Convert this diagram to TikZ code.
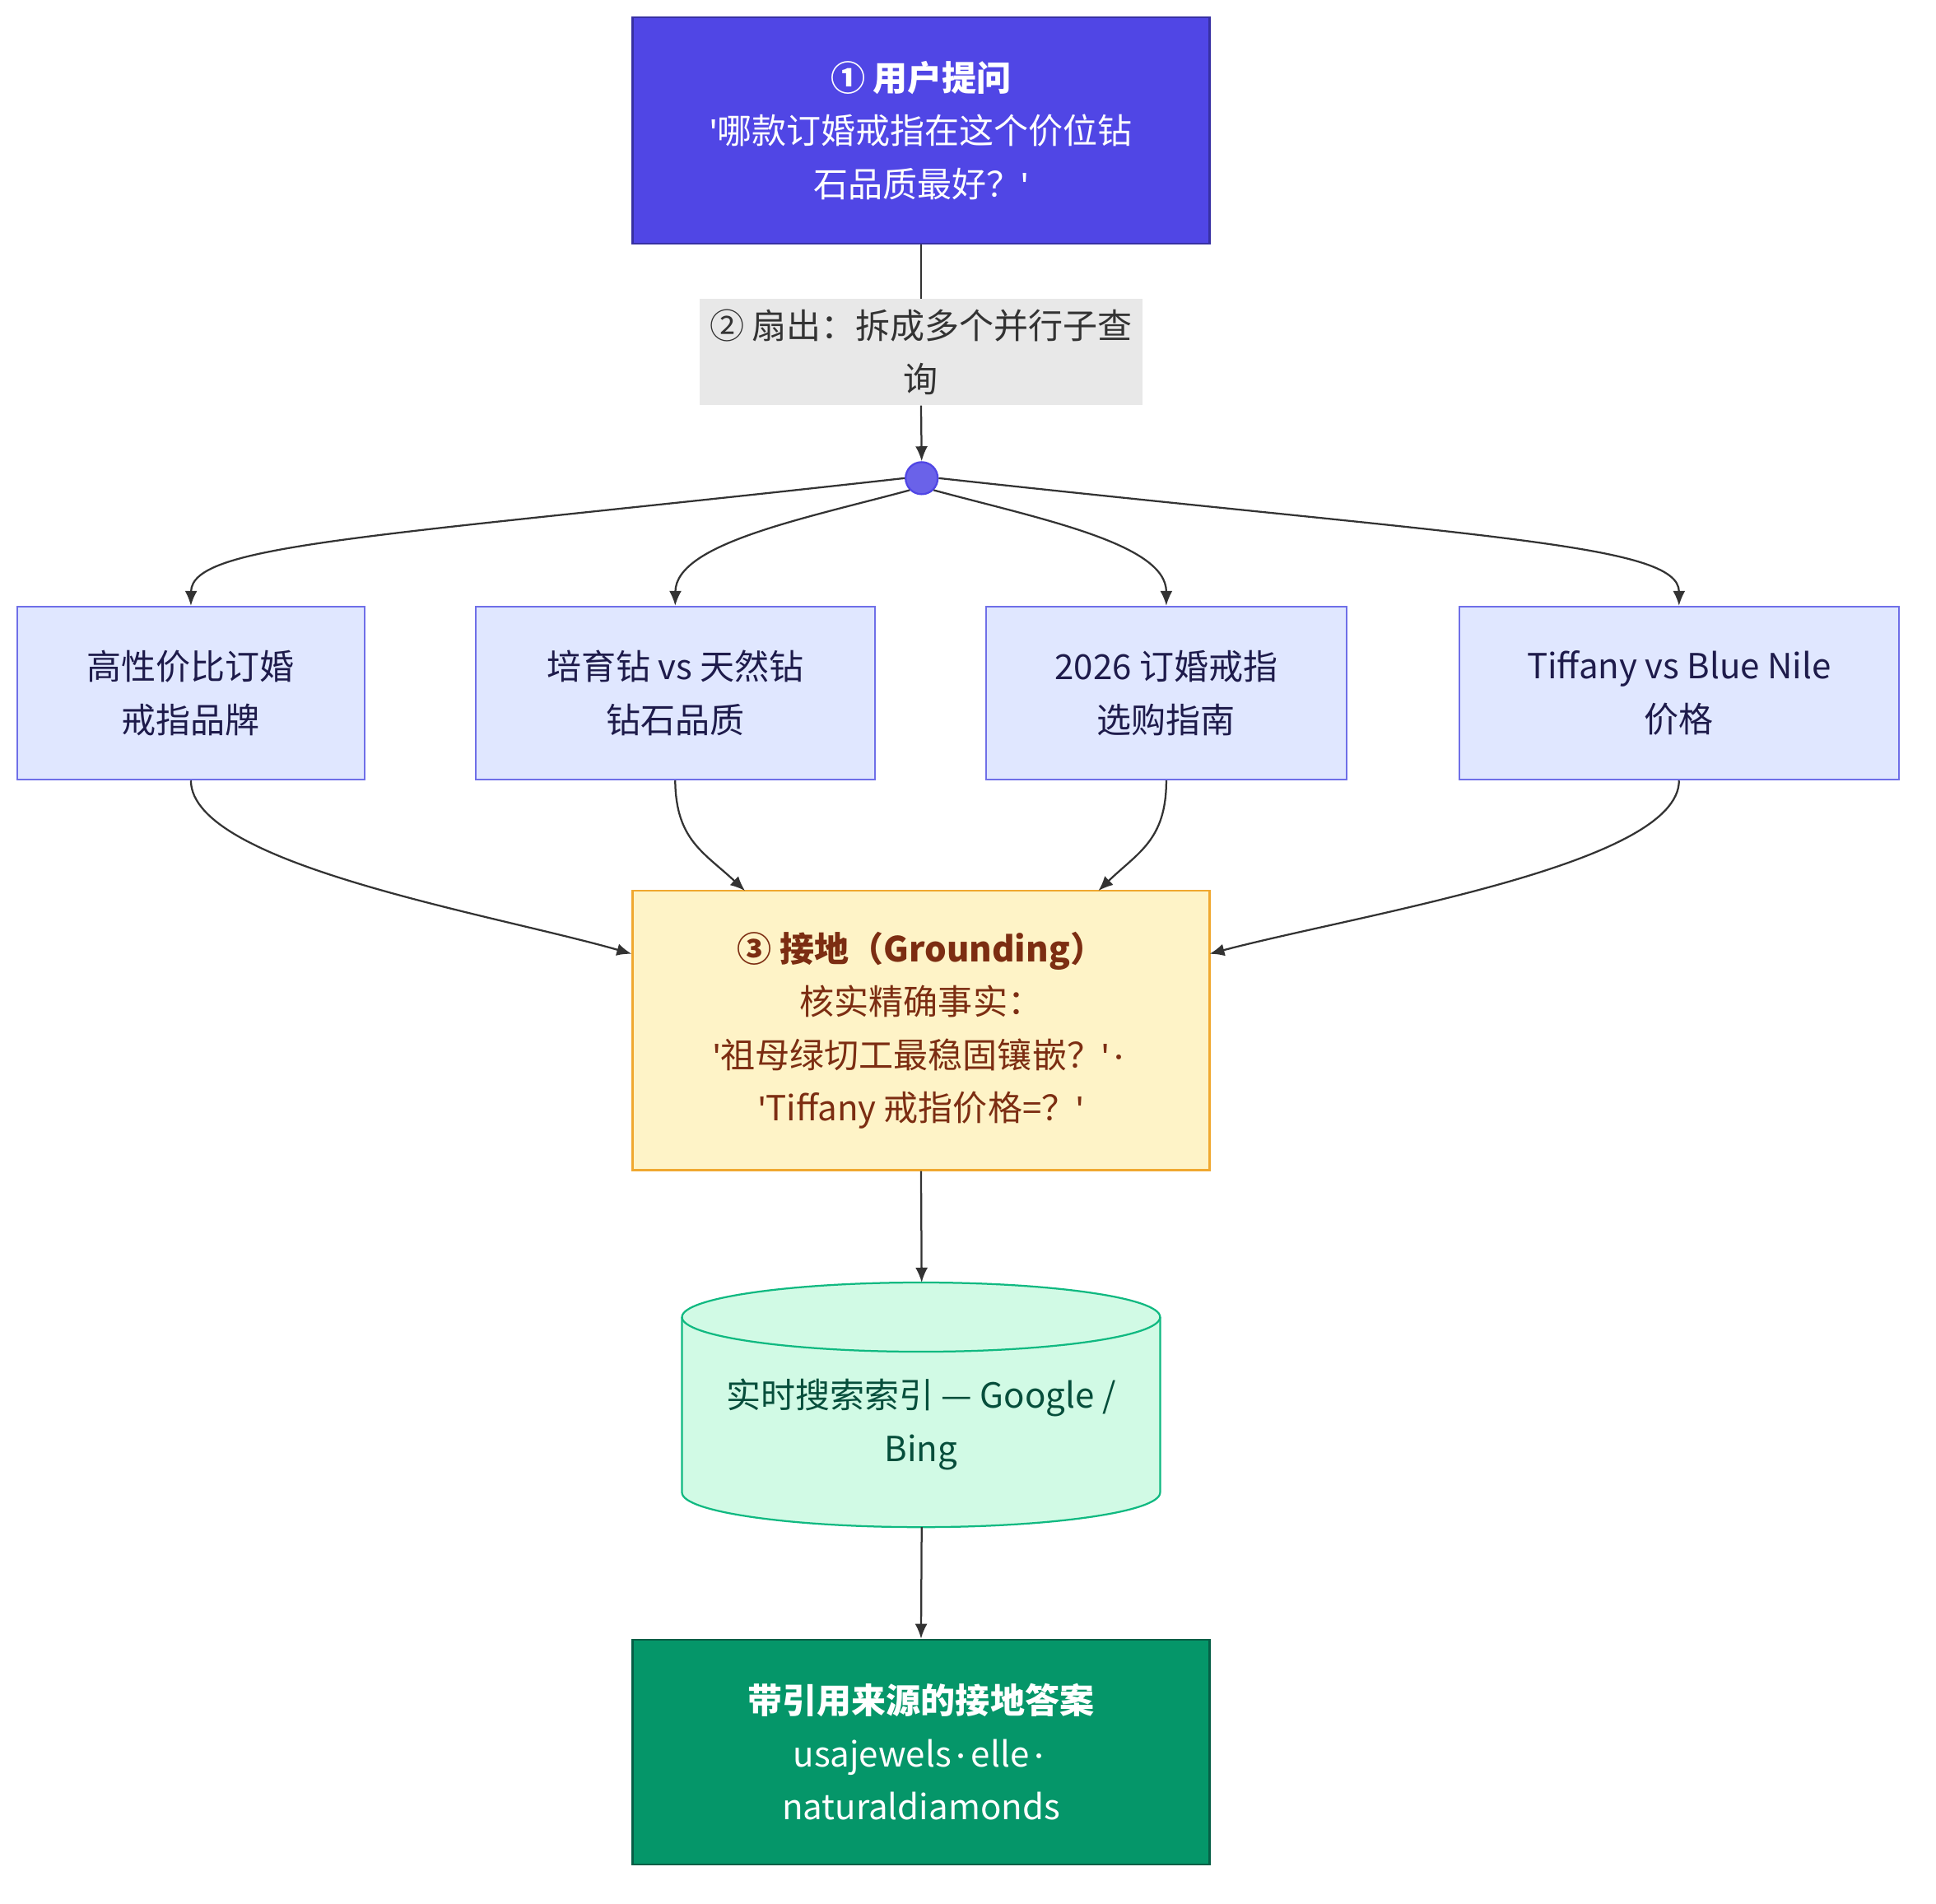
\documentclass[tikz,border=0pt]{standalone}
\usepackage{fontspec}
\setmainfont{Noto Sans CJK SC}
\newfontfamily\lat{Fira Sans}
\newcommand{\sq}{{\lat\symbol{39}}}
\newcommand{\md}{{\lat\,·\,}}
\usetikzlibrary{arrows.meta}
\definecolor{topc}{HTML}{5046E5}
\definecolor{topb}{HTML}{3730A3}
\definecolor{subf}{HTML}{E0E7FF}
\definecolor{subb}{HTML}{6F6FE8}
\definecolor{subt}{HTML}{1E1B4B}
\definecolor{grf}{HTML}{FEF3C7}
\definecolor{grb}{HTML}{F0A830}
\definecolor{grt}{HTML}{7C2D12}
\definecolor{cyf}{HTML}{D1FAE5}
\definecolor{cyb}{HTML}{10B981}
\definecolor{cyt}{HTML}{064E3B}
\definecolor{anf}{HTML}{059669}
\definecolor{anb}{HTML}{065F46}
\definecolor{lnc}{HTML}{333333}
\begin{document}
\begin{tikzpicture}[x=1pt,y=-1pt,
  box/.style={draw,line width=1.5pt,align=center,inner sep=0pt,font=\fontsize{28}{43}\selectfont},
  sub/.style={box,fill=subf,draw=subb,text=subt,minimum height=140pt},
  arr/.style={draw=lnc,line width=1.5pt,-{Latex[length=12pt,width=10pt]}}]
\useasboundingbox (0,0) rectangle (1567,1541);
\node[box,fill=topc,draw=topb,text=white,minimum width=467pt,minimum height=183pt] (q) at (745.5,105.5) {\textbf{① 用户提问}\\\sq 哪款订婚戒指在这个价位钻\\石品质最好？\sq};
\node[fill=black!9,minimum width=359pt,minimum height=86pt,align=center,inner sep=0pt,text=lnc,font=\fontsize{28}{43}\selectfont] (l) at (745.5,285) {② 扇出：拆成多个并行子查\\询};
\node[circle,fill=topc!85!white,draw=topc,line width=1.5pt,minimum size=26pt,inner sep=0pt] (d) at (746,387) {};
\node[sub,minimum width=281pt] (s1) at (154.5,561) {高性价比订婚\\戒指品牌};
\node[sub,minimum width=323pt] (s2) at (546.5,561) {培育钻 vs 天然钻\\钻石品质};
\node[sub,minimum width=292pt] (s3) at (944,561) {2026 订婚戒指\\选购指南};
\node[sub,minimum width=356pt] (s4) at (1359,561) {Tiffany vs Blue Nile\\价格};
\node[box,fill=grf,draw=grb,text=grt,minimum width=467pt,minimum height=226pt] (g) at (745.5,834) {\textbf{③ 接地（Grounding）}\\核实精确事实：\\\sq 祖母绿切工最稳固镶嵌？\sq\md\\\sq Tiffany 戒指价格=？\sq};
\draw[fill=cyf,draw=cyb,line width=1.5pt] (552,1066) -- (552,1208) arc[start angle=180,end angle=0,x radius=193.5,y radius=28] -- (939,1066) arc[start angle=0,end angle=-180,x radius=193.5,y radius=28] -- cycle;
\draw[draw=cyb,line width=1.5pt] (552,1066) arc[start angle=180,end angle=0,x radius=193.5,y radius=28];
\node[align=center,text=cyt,font=\fontsize{28}{43}\selectfont,inner sep=0pt] (c) at (745.5,1153) {实时搜索索引 — Google /\\Bing};
\coordinate (ctop) at (746,1038);
\coordinate (cbot) at (746,1236);
\node[box,fill=anf,draw=anb,text=white,minimum width=467pt,minimum height=182pt] (a) at (745.5,1418) {\textbf{带引用来源的接地答案}\\usajewels\md elle\md\\naturaldiamonds};
\draw[draw=lnc,line width=1.5pt] (q.south) -- (l.north);
\draw[arr] (l.south) -- (d.north);
\draw[arr] (d.west) .. controls (300,435) and (155,440) .. (s1.north);
\draw[arr] (d.south west) .. controls (650,420) and (547,440) .. (s2.north);
\draw[arr] (d.south east) .. controls (842,420) and (944,440) .. (s3.north);
\draw[arr] (d.east) .. controls (1200,435) and (1359,440) .. (s4.north);
\draw[arr] (s1.south) .. controls (155,700) and (400,740) .. (g.west|-0,772);
\draw[arr] (s2.south) .. controls (547,680) and (570,690) .. (603,721);
\draw[arr] (s3.south) .. controls (944,680) and (921,690) .. (889,721);
\draw[arr] (s4.south) .. controls (1359,700) and (1100,740) .. (979,772);
\draw[arr] (g.south) -- (ctop);
\draw[arr] (cbot) -- (a.north);
\end{tikzpicture}
\end{document}
